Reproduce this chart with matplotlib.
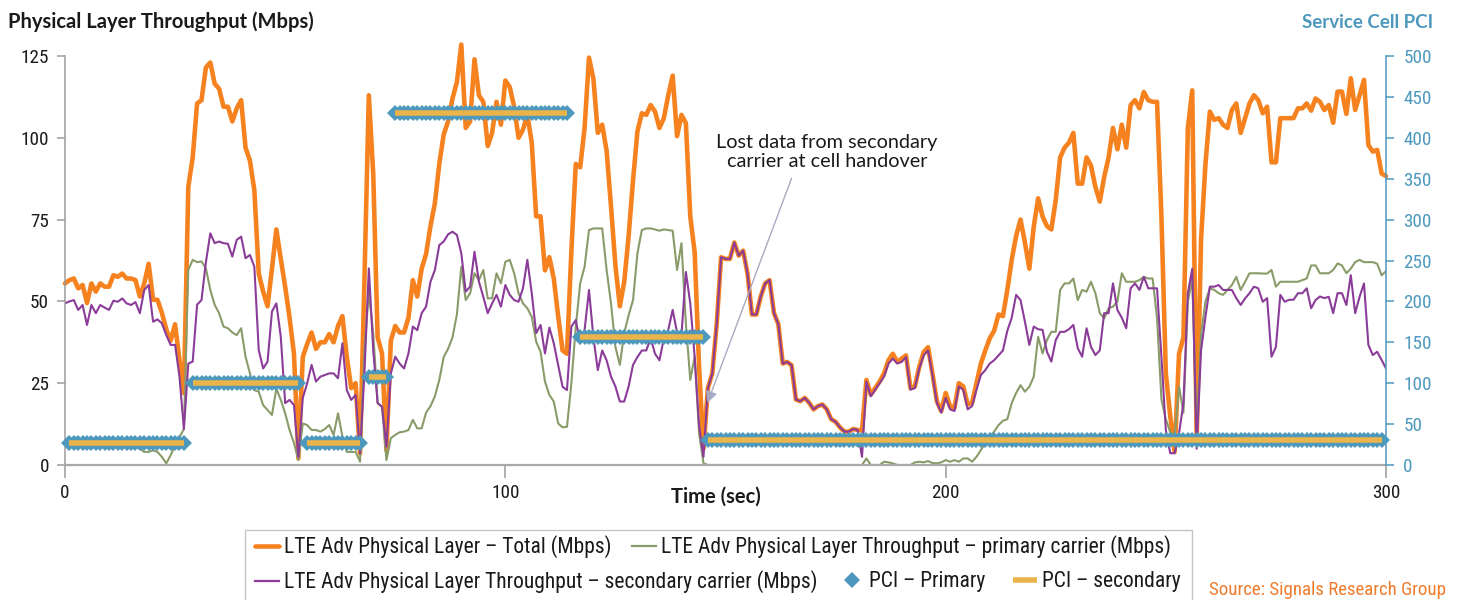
import numpy as np
import matplotlib
matplotlib.use("Agg")
import matplotlib.pyplot as plt
from matplotlib import font_manager as fm
from matplotlib.lines import Line2D
from matplotlib.patches import Rectangle

# ---------------------------------------------------------------- data
time_sec = np.arange(0, 301)

total_mbps = [
    55.5, 56.5, 57, 54, 55, 49.5, 55.5, 53, 55.5, 54.5,
    54.5, 58, 57.5, 58.5, 57, 57, 56.5, 51.5, 55.5, 61.5,
    50.5, 50.5, 46.5, 41.5, 38, 43, 32, 22, 85, 94,
    110.5, 111.5, 121.5, 123, 116.5, 115, 109.5, 109.5, 105, 109,
    111.5, 97, 93, 84, 58.5, 53, 48.5, 60, 72, 63,
    54.5, 45, 34, 2, 33, 37, 40.5, 35.5, 37.5, 37.5,
    40, 37.5, 42.5, 45.5, 33, 23.5, 25, 3.5, 56.5, 113,
    89, 39, 34, 4.5, 38, 42.5, 40.5, 40.5, 45, 56.5,
    51.5, 60, 64.5, 73, 80, 92, 101, 105, 112, 117,
    128.5, 103, 105, 124, 113, 111, 97.5, 101.5, 111, 104,
    117.5, 115.5, 109.5, 100, 102.5, 107, 98.5, 76, 76, 59.5,
    63.5, 57, 45.5, 35, 34, 65.5, 92, 91, 103, 124.5,
    118, 101.5, 104, 96, 79, 61, 48.5, 56, 70, 87,
    102, 107.5, 107, 110, 108, 103, 106, 113, 119, 100.5,
    107, 104.5, 76, 65, 30, 5, 23.5, 28, 43, 63.5,
    63, 63, 68, 64, 65.5, 58.5, 46, 46, 51.5, 55.5,
    56.5, 46.5, 43, 31, 31.5, 30.5, 20, 19.5, 20.5, 19,
    17, 18, 18.5, 17, 14, 13.2, 11.5, 10.2, 10.2, 11,
    10.7, 10.5, 26, 21.5, 23.5, 25.5, 28, 32, 34, 31.5,
    32.5, 33.5, 23.5, 24, 30, 34.5, 36, 28, 19.5, 16.5,
    22, 18, 17.5, 25, 24, 18.5, 19, 25, 31, 35,
    38.7, 41, 46, 45.5, 53.5, 62.7, 70, 75, 68, 60,
    72.8, 81.5, 76, 73, 72, 81, 94, 97, 98.5, 101.5,
    86, 86, 94, 91.5, 85, 80.5, 88, 94, 103, 96.5,
    104, 97, 110, 111.5, 109, 114, 111.5, 111, 111, 76,
    28, 15, 4, 34, 39, 103, 114.5, 7.5, 69, 92,
    108, 105.5, 106, 104, 103, 108.5, 110.5, 101.5, 106, 110.5,
    113, 111.5, 107.5, 109.5, 92.5, 92.5, 106, 106, 106, 106,
    109, 109, 110.5, 108.3, 112, 111, 108.5, 110, 104.6, 114.1,
    114.1, 107.3, 118.2, 108.5, 113, 117.7, 97.8, 95.8, 96.3, 89.1,
    88.3,
]

primary_mbps = [
    6.5, 7, 6, 6.5, 7, 6, 6.5, 7, 6.5, 6,
    6.5, 7, 6.5, 6, 6.5, 6, 5.5, 5, 4, 4,
    4.5, 4, 2.5, 0.5, 3, 6, 8.5, 11, 59.6, 62.7,
    62, 62.2, 60.1, 53.5, 48.9, 46.4, 42.3, 41.8, 40.5, 39.7,
    41.8, 33.1, 28, 22.9, 22.4, 18.3, 16.8, 15.3, 23.4, 19.9,
    15.8, 10.7, 6.7, 1.5, 12.7, 12.2, 10.7, 10.7, 10.2, 11,
    12.2, 9.2, 15.8, 8.7, 4, 4, 4, 1, 35.1, 53,
    40.3, 18.9, 17.8, 1.5, 8.2, 9.2, 10, 10.2, 10.7, 13.8,
    11.2, 11.2, 16, 18, 21, 26, 33, 35.5, 39, 46,
    60.6, 50.4, 52.5, 58.6, 56.5, 59.6, 50.9, 51, 58.6, 55.5,
    62.1, 62.7, 58.6, 52.5, 49.4, 47.9, 45.3, 37.7, 34.6, 25.5,
    21.4, 19.4, 12.7, 11.5, 11.7, 25, 42.3, 55.5, 60.6, 71.8,
    72.3, 72.3, 72.3, 59.6, 49.4, 36.1, 30.6, 40.3, 45.8, 50.4,
    64.7, 71.8, 72.3, 72.3, 72, 71.6, 72, 71.8, 71.6, 59.6,
    67.8, 43.3, 26, 33.1, 9.7, 0.5, 0, 0, 0, 0,
    0, 0, 0, 0, 0, 0, 0, 0, 0, 0,
    0, 0, 0, 0, 0, 0, 0, 0, 0, 0,
    0, 0, 0, 0, 0, 0, 0, 0, 0, 0,
    0, 0, 2, 0, 0, 0, 1, 0.8, 0.5, 0,
    0, 0, 0, 0.8, 1, 0.8, 1.2, 0.6, 0.5, 0.8,
    1.5, 1, 1.5, 1, 2, 2, 1, 2.5, 4.6, 6.6,
    8.5, 10.2, 12.2, 13.5, 14, 18.9, 22, 24.4, 22.4, 23.9,
    27, 39.2, 34.1, 38.2, 40.7, 40.7, 53.5, 55.5, 55.5, 57,
    50.4, 53.5, 53, 56, 52.5, 46.4, 44.8, 47.9, 48.4, 50,
    58.6, 56, 56, 56, 56.5, 57.5, 57, 57, 45, 20,
    14, 10, 9, 24, 16, 50, 57, 9, 40, 50,
    54, 53.5, 52.5, 52, 53.5, 55, 57.5, 53.5, 56, 58.6,
    58.6, 58.6, 58.5, 58.5, 59.6, 54.5, 56, 56, 56, 56,
    56, 56.5, 57, 61, 61, 58.6, 58.6, 58.6, 59.6, 61.6,
    61, 58.6, 60, 62, 62.7, 62, 62, 62, 61.5, 58,
    59.2,
]

secondary_mbps = [
    49.4, 50, 50.4, 47.4, 48.9, 42.8, 48.9, 46.4, 48.9, 48.1,
    47.4, 50.2, 49.9, 50.9, 49.4, 48.9, 49.8, 46.4, 53.5, 55,
    43.8, 44.5, 43.3, 39.7, 36.7, 36.7, 27, 11, 31, 31.6,
    49, 50.4, 62, 70.8, 67.8, 68.3, 67.8, 67.6, 63.7, 68.8,
    69.8, 63.2, 64.2, 60.6, 35.1, 29.5, 31.6, 46.9, 49.4, 39.2,
    18.9, 19.9, 18.3, 2.5, 20.5, 25, 30.6, 25.5, 27, 27.5,
    28, 28, 26.5, 37.2, 22.9, 19.9, 21.4, 3.6, 28, 60.1,
    35.1, 18.9, 17.8, 5.6, 28, 33.1, 31, 29.5, 34.1, 42.3,
    41.2, 46.4, 48.4, 56, 59.6, 67.2, 68.3, 70.5, 71.3, 70.3,
    64.7, 53, 54.5, 65.2, 56, 51.4, 46.4, 49.4, 52, 48.4,
    55, 52, 50.4, 49.9, 54, 62.7, 52.5, 40.3, 42.8, 34.1,
    42, 37.2, 30.6, 23.9, 22.9, 42.3, 44.3, 37.2, 41.3, 53.5,
    39, 29, 35, 32, 27, 24, 19.4, 19.4, 24, 30.6,
    33, 35, 35, 38.7, 34, 32, 38.7, 41.3, 47.4, 40.5,
    39.7, 59, 49.4, 33, 12, 2.5, 23.5, 28, 43, 63.5,
    63, 63, 68, 64, 65.5, 58.5, 46, 46, 51.5, 55.5,
    56.5, 46.5, 43, 31, 31.5, 30.5, 20, 19.5, 20.5, 19,
    17, 18, 18.5, 17, 14, 13.2, 11.5, 10.2, 10.2, 11,
    10.7, 2.5, 25.5, 21, 23, 25, 27, 31, 32.5, 31,
    31.5, 33, 23, 23.5, 29.5, 33.5, 35, 27.5, 19, 16,
    20.5, 17, 16.5, 24, 23, 17, 18, 23, 27.5, 29,
    31, 32, 33.5, 35, 41, 45, 52, 50.4, 43.8, 36.7,
    42.3, 41.5, 41.3, 34.6, 31.6, 38.2, 40.7, 40.7, 41.5, 42.8,
    35.7, 33.1, 41.8, 36.1, 33.6, 35, 46.4, 46.4, 55.5, 47.4,
    45, 41.8, 54, 55.5, 53.5, 57.5, 54, 54, 54, 33,
    10.7, 3.6, 3.6, 9.7, 18.9, 52.5, 60, 5, 35, 45.3,
    54.5, 54.5, 55, 53.5, 53.5, 53.5, 51, 48.9, 50.9, 52.5,
    54.5, 54, 49.9, 51, 33.1, 36.1, 52, 49.9, 50.5, 50.5,
    52.5, 52.5, 54, 47.9, 50.4, 51.5, 51, 51.4, 46.4, 52.5,
    52.5, 48.9, 58, 46.4, 51.4, 55.5, 36.7, 33.6, 34.6, 32.1,
    29.5,
]

# serving-cell PCI, one run per cell: first second, last second, PCI
pci_start = [1, 29, 55, 69, 75, 117, 146]
pci_end = [27, 53, 67, 73, 114, 145, 299]
pci_value = [27, 100, 27, 108, 430, 156, 30]

x_ticks = [0, 100, 200, 300]
left_ticks = [0, 25, 50, 75, 100, 125]
right_ticks = [0, 50, 100, 150, 200, 250, 300, 350, 400, 450, 500]

series_labels = [
    "LTE Adv Physical Layer \u2013 Total (Mbps)",
    "LTE Adv Physical Layer Throughput \u2013 primary carrier (Mbps)",
    "LTE Adv Physical Layer Throughput \u2013 secondary carrier (Mbps)",
    "PCI \u2013 Primary",
    "PCI \u2013 secondary",
]

# ---------------------------------------------------------------- style
ORANGE = "#f5821f"
GREEN = "#8a9b6a"
PURPLE = "#8a3c98"
BLUE = "#4d98bd"
GOLD = "#eab44a"
AXIS_GREY = "#9b9b9b"
INK = "#1a1a1a"
ARROW = "#a6aac3"

installed = {f.name for f in fm.fontManager.ttflist}


def first_available(*families):
    for fam in families:
        if fam in installed:
            return fam
    return "DejaVu Sans"


NARROW = first_available("Liberation Sans Narrow", "Roboto Condensed",
                         "Open Sans Condensed", "Lato")
HUMANIST = first_available("Lato", "Open Sans", "DejaVu Sans")

W, H = 1460, 600
fig = plt.figure(figsize=(W / 100, H / 100), dpi=100)
fig.patch.set_facecolor("white")

# plot area in pixels: x 65..1386, y 56..465
ax = fig.add_axes([65 / W, 1 - 465 / H, (1386 - 65) / W, (465 - 56) / H])
ax2 = ax.twinx()

# ---------------------------------------------------------------- throughput lines
line_total, = ax.plot(time_sec, total_mbps, color=ORANGE, lw=3.3,
                      solid_joinstyle="round", solid_capstyle="round",
                      clip_on=False, zorder=2)
line_primary, = ax.plot(time_sec, primary_mbps, color=GREEN, lw=1.5,
                        solid_joinstyle="round", zorder=2.1)
line_secondary, = ax.plot(time_sec, secondary_mbps, color=PURPLE, lw=1.5,
                          solid_joinstyle="round", zorder=2.2)

ax.set_xlim(0, 300)
ax.set_ylim(0, 125)
ax2.set_ylim(0, 500)

# ---------------------------------------------------------------- PCI runs
for s, e, v in zip(pci_start, pci_end, pci_value):
    tt = np.arange(s, e + 1)
    vv = np.full(tt.shape, v, dtype=float)
    ax2.plot(tt, vv, ls="none", marker="D", ms=8.5, mfc=BLUE, mec=BLUE,
             mew=0, clip_on=False, zorder=3)
    ax2.plot(tt, vv, color=GOLD, lw=4, solid_capstyle="butt",
             clip_on=False, zorder=4)

# ---------------------------------------------------------------- axes styling
for name in ("top", "right"):
    ax.spines[name].set_visible(False)
for name in ("top", "left", "bottom"):
    ax2.spines[name].set_visible(False)
ax.spines["left"].set_color(AXIS_GREY)
ax.spines["left"].set_linewidth(1.1)
ax.spines["bottom"].set_color("#a8a8a8")
ax.spines["bottom"].set_linewidth(1.6)
ax.spines["bottom"].set_zorder(5)
ax2.spines["right"].set_color(BLUE)
ax2.spines["right"].set_linewidth(1.1)

ax.set_xticks(x_ticks)
ax.set_xticklabels([str(v) for v in x_ticks])
ax.set_yticks(left_ticks)
ax.set_yticklabels([str(v) for v in left_ticks])
ax2.set_yticks(right_ticks)
ax2.set_yticklabels([str(v) for v in right_ticks])

TICK_SIZE = 13.8
ax.tick_params(axis="x", direction="out", length=9.5, width=1.1,
               color=AXIS_GREY, pad=4, labelsize=TICK_SIZE, labelcolor=INK)
ax.tick_params(axis="y", direction="out", length=5.5, width=1.1,
               color=AXIS_GREY, pad=6, labelsize=TICK_SIZE, labelcolor=INK)
ax2.tick_params(axis="y", direction="out", length=5.5, width=1.1,
                color=BLUE, pad=7, labelsize=TICK_SIZE, labelcolor=BLUE)
for lab in ax.get_xticklabels() + ax.get_yticklabels() + ax2.get_yticklabels():
    lab.set_fontfamily(NARROW)

# ---------------------------------------------------------------- titles
fig.text(8 / W, 1 - 22 / H, "Physical Layer Throughput (Mbps)",
         family=HUMANIST, fontweight="bold", fontsize=14.5, color=INK,
         ha="left", va="center")
fig.text(1433 / W, 1 - 22 / H, "Service Cell PCI",
         family=HUMANIST, fontweight="bold", fontsize=13.5, color=BLUE,
         ha="right", va="center")
fig.text(716 / W, 1 - 497 / H, "Time (sec)",
         family=HUMANIST, fontweight="bold", fontsize=14.5, color=INK,
         ha="center", va="center")

# ---------------------------------------------------------------- annotation
ax.text(173, 95.7, "Lost data from secondary\ncarrier at cell handover",
        family=HUMANIST, fontsize=14.3, color=INK, ha="center", va="center",
        linespacing=1.1, zorder=6)
ax.annotate("", xy=(145.9, 19), xytext=(165, 87.6),
            arrowprops=dict(arrowstyle="-|>", color=ARROW, lw=1.0,
                            shrinkA=0, shrinkB=0, mutation_scale=17),
            annotation_clip=False, zorder=6)

# ---------------------------------------------------------------- legend
h_total = Line2D([], [], color=ORANGE, lw=3.3, solid_capstyle="round")
h_primary = Line2D([], [], color=GREEN, lw=1.6)
h_secondary = Line2D([], [], color=PURPLE, lw=1.6)
h_pci_p = Line2D([], [], ls="none", marker="D", ms=8, mfc=BLUE, mec=BLUE, mew=0)
h_pci_s = Line2D([], [], color=GOLD, lw=4, solid_capstyle="butt")

LEGEND_SIZE = 15.5
entries = [
    (h_total, series_labels[0], 255, 547),
    (h_primary, series_labels[1], 632, 547),
    (h_secondary, series_labels[2], 255, 582),
    (h_pci_p, series_labels[3], 840, 582),
    (h_pci_s, series_labels[4], 1013, 582),
]
for handle, label, x_px, y_px in entries:
    fig.legend([handle], [label], loc="center left",
               bbox_to_anchor=(x_px / W, 1 - y_px / H),
               frameon=False, borderpad=0, borderaxespad=0,
               handlelength=1.12, handletextpad=0.25, numpoints=1,
               prop=dict(family=NARROW, size=LEGEND_SIZE), labelcolor=INK)

fig.patches.append(Rectangle((245 / W, -0.02), (1192 - 245) / W,
                             0.02 + (600 - 530) / H,
                             transform=fig.transFigure, fill=False,
                             edgecolor="#c4c4c4", lw=1.0))

fig.text(1446 / W, 1 - 590 / H, "Source: Signals Research Group",
         family=NARROW, fontsize=13.6, color="#f07b2c", ha="right", va="center")

fig.savefig("out.png", dpi=100)
